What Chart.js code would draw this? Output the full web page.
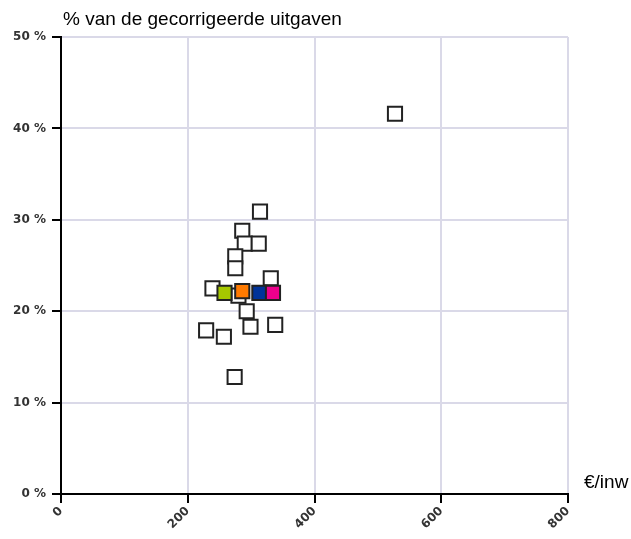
<!DOCTYPE html>
<html>
<head>
<meta charset="utf-8">
<script src="https://cdn.jsdelivr.net/npm/chart.js@4/dist/chart.umd.min.js"></script>
<style>
  html, body { margin: 0; padding: 0; background: #fff; }
  #wrap { width: 631px; height: 539px; position: relative; }
</style>
</head>
<body>
<div id="wrap"><canvas id="chart"></canvas></div>
<script>
// waarden
var xTicks = [0, 200, 400, 600, 800];
var yTicks = [0, 10, 20, 30, 40, 50];
var titleY = "% van de gecorrigeerde uitgaven";
var titleX = "€/inw";

// witte gemeenten
var otherX = [527, 314, 286, 290, 312, 275, 275, 331, 239, 280, 293, 299, 338, 229, 257, 274];
var otherY = [41.6, 30.9, 28.8, 27.4, 27.4, 26.0, 24.7, 23.6, 22.5, 21.7, 20.0, 18.3, 18.5, 17.9, 17.2, 12.8];

// gemarkeerde gemeenten
var markedX = [258, 286, 313, 334.5];
var markedY = [22.0, 22.2, 22.0, 22.0];
var markedColors = ["#a6c800", "#ff7a00", "#003399", "#ec008c"];

function toPoints(xs, ys) {
    return xs.map(function (x, i) { return { x: x, y: ys[i] }; });
}

var textPlugin = {
    id: "axisTexts",
    afterDraw: function (chart) {
        var ctx = chart.ctx;
        ctx.save();
        ctx.fillStyle = "#000";
        ctx.font = "19px 'Liberation Sans', Arial, sans-serif";
        ctx.textAlign = "left";
        ctx.textBaseline = "alphabetic";
        ctx.fillText(titleY, 63, 25);
        ctx.fillText(titleX, 584, 488);
        ctx.restore();
    }
};

var tickFont = { family: "'DejaVu Sans', Verdana, sans-serif", size: 12, weight: "bold" };

var chart = new Chart(document.getElementById("chart").getContext("2d"), {
    type: "scatter",
    data: {
        datasets: [
            {
                // eerste dataset wordt bovenop getekend
                data: toPoints(markedX, markedY),
                pointStyle: "rect",
                pointRadius: 10,
                pointBackgroundColor: markedColors,
                pointBorderColor: "#222",
                pointBorderWidth: 2
            },
            {
                data: toPoints(otherX, otherY),
                pointStyle: "rect",
                pointRadius: 10,
                pointBackgroundColor: "#fff",
                pointBorderColor: "#222",
                pointBorderWidth: 2
            }
        ]
    },
    options: {
        responsive: true,
        maintainAspectRatio: false,
        animation: false,
        layout: { padding: { top: 37, right: 63, left: 0, bottom: 0 } },
        plugins: { legend: { display: false }, tooltip: { enabled: false } },
        scales: {
            x: {
                type: "linear",
                min: 0,
                max: 800,
                afterBuildTicks: function (scale) {
                    scale.ticks = xTicks.map(function (v) { return { value: v }; });
                },
                afterFit: function (scale) { scale.height = 45; },
                border: { color: "#000", width: 2 },
                grid: { color: "#dad9e8", lineWidth: 2, tickColor: "#000", tickLength: 9, tickWidth: 2 },
                ticks: { font: tickFont, color: "#333", minRotation: 45, maxRotation: 45, padding: 1 }
            },
            y: {
                type: "linear",
                min: 0,
                max: 50,
                afterBuildTicks: function (scale) {
                    scale.ticks = yTicks.map(function (v) { return { value: v }; });
                },
                afterFit: function (scale) { scale.width = 61; },
                border: { color: "#000", width: 2 },
                grid: { color: "#dad9e8", lineWidth: 2, tickColor: "#000", tickLength: 9, tickWidth: 2 },
                ticks: {
                    font: tickFont,
                    color: "#333",
                    padding: 6,
                    callback: function (v) { return v + " %"; }
                }
            }
        }
    },
    plugins: [textPlugin]
});
</script>
</body>
</html>
